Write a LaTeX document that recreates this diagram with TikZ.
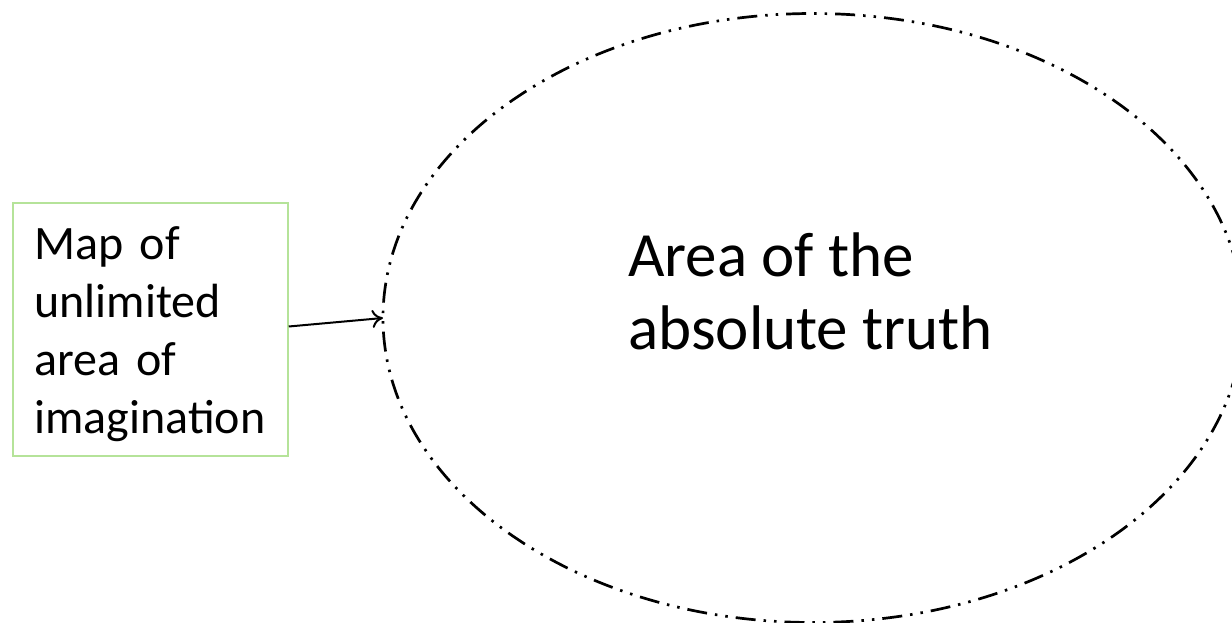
\documentclass[tikz,border=0pt]{standalone}
\usepackage{fontspec}
\setmainfont{Carlito}
\usepackage{tikz}
\usetikzlibrary{shapes.geometric,arrows.meta,positioning}

\begin{document}
\begin{tikzpicture}[x=1pt, y=-1pt,
  mapbox/.style={draw=green!45!olive!40, line width=1.5pt, rectangle, minimum width=275pt,
    minimum height=253pt, text width=232pt, align=left, inner sep=0pt,
    font=\fontsize{48}{58}\selectfont},
  truthzone/.style={draw, ellipse, line width=2.7pt, minimum width=860pt, minimum height=609pt,
    inner sep=0pt, outer sep=0pt,
    dash pattern=on 20pt off 8pt on 2.5pt off 8pt on 2.5pt off 8pt},
  ptr/.style={-{To[length=11pt,width=18pt,line width=2pt]}, line width=2pt}
]
\useasboundingbox (0,0) rectangle (1232,623);
\node[mapbox] (map) at (150.5,329.5) {\rule{0pt}{42pt}Map of\\unlimited\\area of\\imagination};
\node[truthzone] (truth) at (813,318) {};
\node[font=\fontsize{63}{73}\selectfont, align=left, anchor=north west, inner sep=0pt] (label) at (628,233) {Area of the\\absolute truth};
\draw[ptr] ([yshift=3pt]map.east) -- (truth.west);
\end{tikzpicture}
\end{document}
